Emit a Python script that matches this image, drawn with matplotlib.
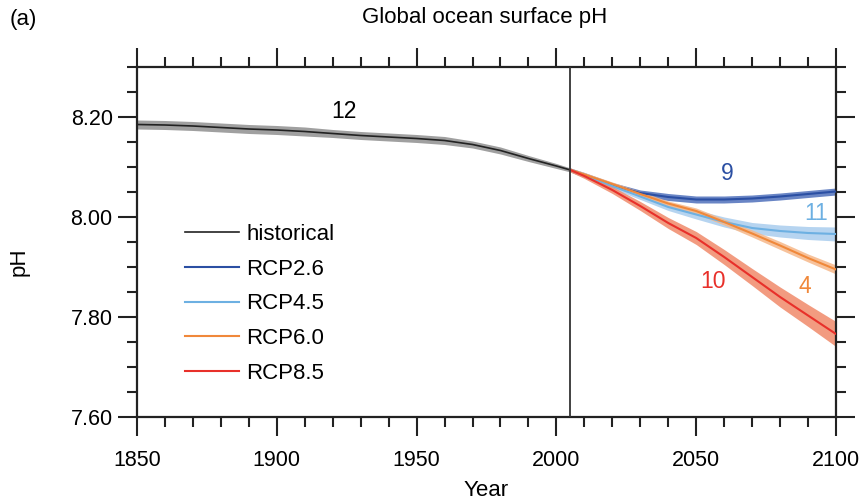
import matplotlib
matplotlib.use("Agg")
import matplotlib.pyplot as plt
from matplotlib.ticker import MultipleLocator

plt.rcParams["font.family"] = ["Liberation Sans", "DejaVu Sans"]
plt.rcParams["font.size"] = 15

# historical run, ensemble mean and half spread
hist_years = [1850, 1860, 1870, 1880, 1890, 1900, 1910, 1920, 1930, 1940,
              1950, 1960, 1970, 1980, 1990, 2000, 2005]
hist_ph = [8.185, 8.184, 8.182, 8.179, 8.176, 8.174, 8.171, 8.167, 8.163, 8.160,
           8.157, 8.153, 8.145, 8.133, 8.117, 8.102, 8.094]
hist_spread = [0.009, 0.009, 0.009, 0.009, 0.009, 0.009, 0.009, 0.008, 0.008, 0.008,
               0.008, 0.008, 0.007, 0.007, 0.006, 0.005, 0.004]

# scenario runs
rcp_years = [2005, 2010, 2020, 2030, 2040, 2050, 2060, 2070, 2080, 2090, 2100]
rcp26 = [8.094, 8.084, 8.064, 8.048, 8.040, 8.035, 8.035, 8.037, 8.041, 8.046, 8.051]
rcp45 = [8.094, 8.084, 8.062, 8.041, 8.020, 8.005, 7.990, 7.978, 7.972, 7.968, 7.966]
rcp60 = [8.094, 8.085, 8.066, 8.046, 8.027, 8.012, 7.990, 7.967, 7.943, 7.918, 7.895]
rcp85 = [8.094, 8.082, 8.054, 8.022, 7.988, 7.958, 7.920, 7.880, 7.840, 7.803, 7.766]
rcp26_spread = [0.004, 0.005, 0.005, 0.006, 0.007, 0.007, 0.007, 0.007, 0.007, 0.007, 0.007]
rcp45_spread = [0.004, 0.004, 0.005, 0.006, 0.007, 0.009, 0.010, 0.011, 0.012, 0.013, 0.014]
rcp60_spread = [0.004, 0.004, 0.004, 0.005, 0.005, 0.006, 0.006, 0.007, 0.008, 0.008, 0.009]
rcp85_spread = [0.004, 0.005, 0.007, 0.009, 0.011, 0.013, 0.015, 0.017, 0.020, 0.022, 0.025]

scenarios = ["RCP2.6", "RCP4.5", "RCP6.0", "RCP8.5"]
n_models = ["9", "11", "4", "10"]
label_years = [2061, 2093, 2089, 2056]
label_ph = [8.088, 8.008, 7.860, 7.870]

line_colors = ["#2b4fa3", "#6db0e2", "#f0883a", "#e8302a"]
band_colors = ["#4f70bb", "#a9cdee", "#f6b88a", "#f08a6a"]

fig = plt.figure(figsize=(8.66, 5.01), dpi=100)
ax = fig.add_axes([137 / 866, 84 / 501, 699 / 866, 350 / 501])

ax.fill_between(hist_years, [v - s for v, s in zip(hist_ph, hist_spread)],
                [v + s for v, s in zip(hist_ph, hist_spread)],
                color="#a0a0a0", lw=0, zorder=2)
ax.plot(hist_years, hist_ph, color="#222222", lw=1.2, label="historical", zorder=3)

series = [rcp26, rcp45, rcp60, rcp85]
spreads = [rcp26_spread, rcp45_spread, rcp60_spread, rcp85_spread]
for name, vals, spr, lc, bc in zip(scenarios, series, spreads, line_colors, band_colors):
    ax.fill_between(rcp_years, [v - s for v, s in zip(vals, spr)],
                    [v + s for v, s in zip(vals, spr)],
                    color=bc, lw=0, alpha=0.85, zorder=2)
    ax.plot(rcp_years, vals, color=lc, lw=1.5, label=name, zorder=3)

for txt, x, y, c in zip(n_models, label_years, label_ph, line_colors):
    ax.text(x, y, txt, color=c, fontsize=16.5, ha="center", va="center")
ax.text(1924, 8.212, "12", color="black", fontsize=16.5, ha="center", va="center")

ax.axvline(2005, color="#333333", lw=1.3, zorder=4)

ax.set_xlim(1850, 2100)
ax.set_ylim(7.6, 8.3)
ax.xaxis.set_major_locator(MultipleLocator(50))
ax.xaxis.set_minor_locator(MultipleLocator(10))
ax.yaxis.set_major_locator(MultipleLocator(0.2))
ax.yaxis.set_minor_locator(MultipleLocator(0.05))
ax.yaxis.set_major_formatter(plt.FuncFormatter(lambda v, p: f"{v:.2f}"))

ax.tick_params(which="both", direction="out", top=True, right=True,
               width=1.5, color="#222222", labelsize=15.5)
ax.tick_params(which="major", length=13.5)
ax.tick_params(which="minor", length=7)
ax.tick_params(axis="x", pad=10)
ax.tick_params(axis="y", pad=4)
for sp in ax.spines.values():
    sp.set_linewidth(1.6)
    sp.set_color("#222222")

ax.legend(loc="center left", bbox_to_anchor=(0.069, 0.323), frameon=False,
          fontsize=16, handlelength=2.4, handletextpad=0.35, labelspacing=0.62,
          borderpad=0, borderaxespad=0)

fig.text(485 / 866, 1 - 18 / 501, "Global ocean surface pH", ha="center",
         va="center", fontsize=16)
fig.text(10 / 866, 1 - 20 / 501, "(a)", ha="left", va="center", fontsize=16)
fig.text(19 / 866, 1 - 262 / 501, "pH", ha="center", va="center",
         rotation=90, fontsize=16)
fig.text(486 / 866, 1 - 490 / 501, "Year", ha="center", va="center", fontsize=16)

fig.savefig("out.png", dpi=100)
